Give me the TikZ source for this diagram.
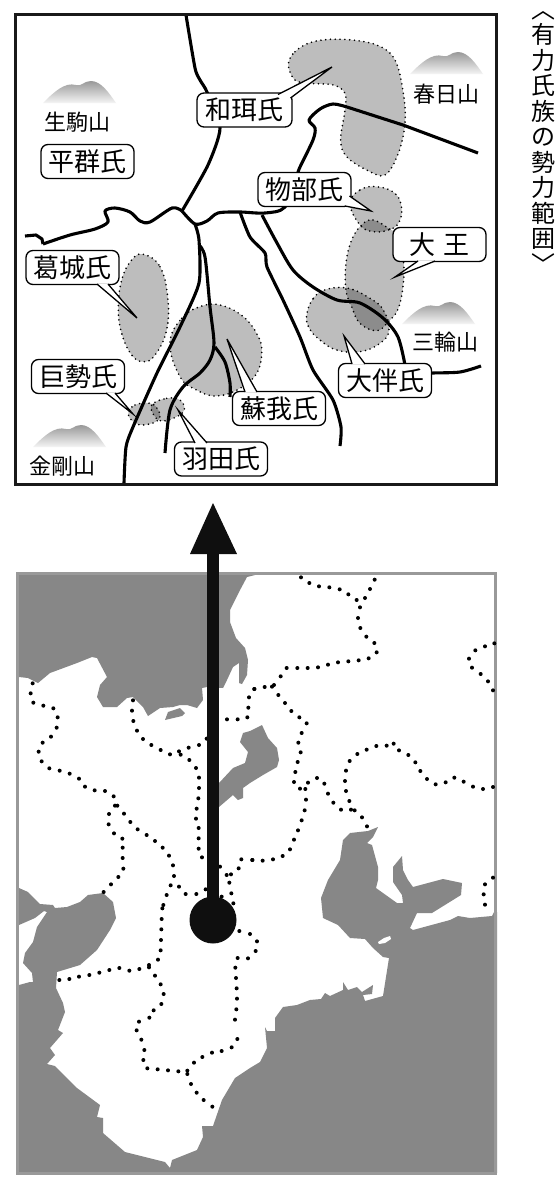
\documentclass[tikz,border=0pt]{standalone}
\usepackage{fontspec}
\setmainfont{Noto Sans CJK JP}
\tikzset{
  za/.style={xshift=0pt,yshift=0pt,x=0.33333pt,y=-0.33333pt},
  zb/.style={xshift=270pt,yshift=0pt,x=0.33333pt,y=-0.33333pt},
  zc/.style={xshift=0pt,yshift=-240pt,x=0.33333pt,y=-0.33333pt},
  zd/.style={xshift=270pt,yshift=-240pt,x=0.33333pt,y=-0.33333pt},
  ze/.style={xshift=0pt,yshift=-560pt,x=0.33333pt,y=-0.33333pt},
  zf/.style={xshift=250pt,yshift=-560pt,x=0.33333pt,y=-0.33333pt},
  zg/.style={xshift=0pt,yshift=-870pt,x=0.33333pt,y=-0.33333pt},
  zh/.style={xshift=250pt,yshift=-870pt,x=0.33333pt,y=-0.33333pt},
  blob/.style={fill=black,fill opacity=.26,draw=black,draw opacity=1,line width=1.8pt,line cap=round,dash pattern=on 0pt off 4.8pt},
  river/.style={draw=black,line width=3.1pt,line join=round},
  label/.style={draw=black,fill=white,line width=1.3pt,rounded corners=7pt,minimum width=93pt,minimum height=34pt,inner sep=0pt,font=\fontsize{26}{26}\selectfont,text height=22pt,text depth=3pt},
  peak/.style={font=\fontsize{22}{22}\selectfont,inner sep=0pt},
  tail/.style={draw=black,fill=white,line width=1.3pt,line join=miter},
  sea/.style={fill=seagray},
}
\definecolor{seagray}{gray}{0.53}
\definecolor{arrowblack}{gray}{0.06}
\newcommand{\mtn}[2]{\shade[top color=black!40,bottom color=black!4,shift={(#1pt,-#2pt)}] (0,0) .. controls (12,-12) and (22,-21) .. (33,-18) .. controls (38,-16) and (41,-22) .. (48,-22) .. controls (58,-22) and (66,-10) .. (73,0) -- cycle;}
\begin{document}
\begin{tikzpicture}[x=1pt,y=-1pt]
\useasboundingbox[fill=white] (0,0) rectangle (559,1186);
% ---------- lower map ----------
\fill[white] (16,572) rectangle (497,1173);
\fill[sea] (16,572) -- (255,572) -- (255,575) -- (247,577) -- (239,592) -- (230,610) -- (230,622) -- (236,638) -- (245,648) -- (248,660) -- (247,675) -- (242,684) -- (239,683) -- (239,663) -- (233,667) -- (227,680) -- (223,688) -- (207,687) -- (202,688) -- (203,700) -- (197,708) -- (187,705) -- (180,705) -- (173,707) -- (160,708) -- (148,716) -- (143,707) -- (133,697) -- (127,698) -- (117,707) -- (103,707) -- (97,697) -- (100,685) -- (107,677) -- (97,658) -- (92,657) -- (77,663) -- (50,673) -- (38,683) -- (28,678) -- (19,677) -- (16,677) -- cycle;
\fill[sea] (165,720) -- (168,712) -- (180,708) -- (185,713) -- (182,716) -- cycle;
\fill[sea] (213,790) -- (219,783) -- (233,768) -- (245,763) -- (248,752) -- (240,742) -- (243,733) -- (250,731) -- (262,725) -- (268,738) -- (277,748) -- (279,760) -- (277,767) -- (263,775) -- (250,783) -- (243,788) -- (243,798) -- (238,800) -- (233,795) -- (219,807) -- (213,815) -- cycle;
\fill[sea] (16,1173) -- (16,987) -- (19,985) -- (30,982) -- (33,982) -- (32,973) -- (23,963) -- (25,953) -- (33,942) -- (37,927) -- (47,912) -- (44,911) -- (35,918) -- (19,925) -- (16,925) -- (16,888) -- (19,888) -- (28,892) -- (40,904) -- (53,905) -- (55,908) -- (67,907) -- (80,902) -- (88,895) -- (103,893) -- (113,902) -- (116,918) -- (110,930) -- (97,950) -- (80,965) -- (57,972) -- (56,988) -- (63,1003) -- (65,1012) -- (58,1030) -- (63,1033) -- (50,1048) -- (55,1055) -- (47,1064) -- (55,1066) -- (77,1088) -- (100,1105) -- (97,1117) -- (103,1118) -- (103,1133) -- (125,1152) -- (165,1162) -- (170,1168) -- (172,1160) -- (197,1150) -- (203,1137) -- (202,1126) -- (213,1126) -- (222,1100) -- (235,1078) -- (250,1068) -- (260,1062) -- (267,1048) -- (265,1027) -- (267,1031) -- (275,1031) -- (275,1018) -- (283,1007) -- (297,1005) -- (310,1000) -- (321,999) -- (325,993) -- (330,996) -- (343,990) -- (343,982) -- (348,990) -- (357,987) -- (362,992) -- (373,985) -- (372,994) -- (363,995) -- (365,1001) -- (383,996) -- (389,958) -- (383,957) -- (373,948) -- (365,939) -- (350,938) -- (338,925) -- (323,918) -- (321,898) -- (328,880) -- (340,860) -- (343,840) -- (350,833) -- (368,831) -- (378,827) -- (373,837) -- (367,843) -- (372,845) -- (378,867) -- (378,880) -- (376,888) -- (397,903) -- (403,903) -- (402,895) -- (393,882) -- (393,867) -- (402,856) -- (403,870) -- (408,880) -- (413,887) -- (443,879) -- (462,883) -- (461,895) -- (432,913) -- (417,913) -- (410,928) -- (413,930) -- (450,920) -- (458,916) -- (470,918) -- (492,916) -- (494,912) -- (497,912) -- (497,1173) -- cycle;
\fill[white] (378,942) -- (384,938) -- (390,936) -- (391,939) -- (385,943) -- (379,944) -- cycle;
\draw[seagray!85!white,line width=3pt] (17.5,573.5) rectangle (495.5,1173);
% boundary dots
\begin{scope}[ze]
\foreach \p in {(98,370),(92,400),(100,428),(130,437),(160,445),(173,472),(170,503),(153,530),(128,548),(116,575),(125,604),(148,625),(179,632),(209,641),(237,656),(255,680),(284,691),(315,693),(341,709),(345,737),(352,737),(372,761),(391,786),(413,808),(440,825),(465,843),(488,863),(507,887),(519,916),(522,948),(327,762),(326,793),(342,820),(367,836),(368,863),(368,894),(370,926),(355,951),(399,421),(396,452),(400,483),(411,512),(429,537),(454,555),(482,570),(510,583),(537,574),(542,584),(566,563),(597,555),(620,536),(568,600),(588,624),(597,653),(597,684),(595,715),(590,746),(588,776),(596,804),(596,835),(596,866),(606,892),(660,920),(680,945),(693,943),(716,925),(724,898),(757,900),(681,478),(713,478),(742,472),(745,443),(747,412),(763,387)}
  \fill[black] \p circle (2pt);
\end{scope}
\begin{scope}[zf]
\foreach \p in {(153,52),(178,69),(207,79),(238,82),(269,88),(295,103),(320,120),(345,114),(360,87),(374,59),(330,142),(324,174),(331,204),(349,230),(373,249),(380,277),(356,295),(326,301),(295,304),(264,307),(234,314),(204,322),(173,324),(142,324),(110,324),(92,349),(72,375),(66,380),(44,381),(13,387),(85,405),(105,429),(124,453),(148,472),(170,490),(155,519),(145,548),(152,577),(143,606),(136,636),(132,666),(150,686),(166,687),(174,668),(201,654),(223,671),(234,701),(250,728),(273,749),(303,749),(314,751),(298,723),(288,693),(285,663),(288,632),(299,603),(322,582),(350,569),(379,558),(410,557),(431,551),(447,571),(475,585),(496,607),(511,633),(531,657),(557,673),(587,667),(613,653),(641,665),(669,680),(699,687),(729,681),(168,719),(164,751),(155,781),(144,811),(132,839),(120,868),(98,888),(69,898),(38,902),(7,900),(657,296),(676,271),(705,259),(733,250),(666,323),(692,342),(714,364),(729,391),(336,772),(351,799),(729,953)}
  \fill[black] \p circle (2pt);
\end{scope}
\begin{scope}[zg]
\foreach \p in {(333,43),(311,66),(512,46),(500,75),(490,105),(487,115),(485,147),(484,178),(483,210),(482,241),(474,269),(447,285),(447,292),(418,297),(388,302),(358,294),(328,300),(298,308),(268,315),(237,320),(208,327),(178,330),(537,50),(557,72),(589,72),(617,58),(665,80),(688,38),(694,70),(700,100),(718,183),(750,192),(771,214),(767,243),(744,265),(713,264),(706,293),(708,324),(710,355),(711,386),(709,418),(705,449),(712,507),(695,532),(665,543),(636,548),(607,561),(582,578),(562,602),(535,604),(504,601),(473,598),(442,595),(430,570),(433,540),(424,509),(410,481),(417,455),(448,443),(461,421),(484,402),(491,372),(482,343),(465,317),(562,612),(573,642),(590,668),(611,690),(637,710)}
  \fill[black] \p circle (2pt);
\end{scope}
\begin{scope}[zh]
\foreach \p in {(705,43),(701,73),(705,104)}
  \fill[black] \p circle (2pt);
\end{scope}
% arrow
\coordinate (arrowbase) at (213,920);
\coordinate (arrowtip) at (213,503);
\fill[arrowblack] (arrowbase) circle (23.5pt);
\fill[arrowblack] (207,920) -- (207,550) -- (219.3,550) -- (219.3,920) -- cycle;
\fill[arrowblack] (arrowtip) -- (237,554) -- (190,554) -- cycle;
% ---------- upper map ----------
\begin{scope}[zb]
\path[blob] plot[smooth cycle,tension=.6] coordinates {(55,195)(75,155)(130,125)(220,118)(320,135)(375,180)(400,280)(405,370)(385,460)(345,525)(290,510)(230,470)(212,420)(225,330)(225,280)(190,255)(120,250)(75,240)};
\path[blob] plot[smooth cycle,tension=.7] coordinates {(240,610)(270,570)(320,560)(375,580)(395,625)(385,670)(355,690)(310,695)(270,675)};
\end{scope}
\begin{scope}[zd]
\path[blob] plot[smooth cycle,tension=.7] coordinates {(275,-45)(309,-60)(355,-35)(385,-10)(400,60)(400,130)(385,205)(355,245)(320,272)(270,250)(245,200)(228,150)(228,70)(245,0)};
\path[blob] plot[smooth cycle,tension=.7] coordinates {(110,225)(130,175)(170,148)(235,145)(300,175)(340,210)(357,270)(330,310)(270,335)(200,330)(150,300)(118,265)};
\end{scope}
\begin{scope}[zc]
\path[blob] plot[smooth cycle,tension=.7] coordinates {(430,43)(480,80)(503,170)(500,270)(465,345)(430,365)(395,345)(365,280)(355,205)(365,120)(395,60)};
\path[blob] plot[smooth cycle,tension=.7] coordinates {(510,310)(545,235)(600,200)(660,195)(730,230)(775,290)(785,340)(770,400)(720,445)(650,468)(590,450)(540,410)};
\path[blob] plot[smooth cycle,tension=.7] coordinates {(385,520)(405,495)(450,490)(475,510)(475,540)(430,555)(400,545)};
\path[blob] plot[smooth cycle,tension=.7] coordinates {(455,495)(500,475)(540,480)(553,510)(530,530)(490,543)(465,530)};
\end{scope}
% rivers
\draw[river] plot[smooth,tension=.4] coordinates {(186,15)(195,68)(200,80)(207,92)(220,128)(208,165)(182,211)};
\draw[river] plot[smooth,tension=.5] coordinates {(182,211)(172,208)(150,222)(140,221)(130,212)(115,208)(105,211)(108,222)(95,229)(70,235)(43,244)};
\draw[river] (43,244) -- (42,239) -- (36,235) -- (25,236);
\draw[river] plot[smooth,tension=.5] coordinates {(182,211)(195,224)(207,221)(218,213)(240,212)(265,213)(285,207)(297,175)(300,167)(313,140)(315,128)(309,120)(320,109)(333,104)(347,107)};
\draw[river] (347,107) -- (403,125) -- (478,153);
\draw[river] plot[smooth,tension=.4] coordinates {(195,224)(199,240)(199,283)(180,327)(157,373)(133,427)(126,447)(124,483)};
\draw[river] plot[smooth,tension=.5] coordinates {(199,245)(205,257)(210,307)(214,343)(210,360)(200,373)(183,387)(170,410)(165,453)};
\draw[river] plot[smooth,tension=.5] coordinates {(215,347)(225,362)(230,383)(230,397)};
\draw[river] plot[smooth,tension=.4] coordinates {(240,212)(250,237)(265,253)(267,267)(283,300)(300,337)(313,370)(333,400)(341,427)(340,446)};
\draw[river] plot[smooth,tension=.5] coordinates {(262,215)(277,243)(293,270)(313,287)(337,300)(360,303)(383,318)(398,337)(405,365)};
\draw[river] plot[smooth,tension=.5] coordinates {(425,374)(433,373)(460,372)(481,366)};
% mountains
\mtn{43}{103}
\mtn{410}{74}
\mtn{402}{324}
\mtn{33}{447}
\node[peak] (ikoma) at (77,122) {生駒山};
\node[peak] (kasuga) at (446,94) {春日山};
\node[peak] (miwa) at (445,342) {三輪山};
\node[peak] (kongo) at (62,466) {金剛山};
% clan labels
\node[label,minimum width=95pt] (wani) at (244.5,110) {和珥氏};
\node[label] (heguri) at (87.5,161.5) {平群氏};
\node[label] (mono) at (304.5,189.5) {物部氏};
\node[label] (okimi) at (439.5,244.5) {大\,\,王};
\node[label] (katsu) at (72.5,267.5) {葛城氏};
\node[label] (kose) at (78,376.5) {巨勢氏};
\node[label] (hata) at (221,459) {羽田氏};
\node[label] (soga) at (279,408.5) {蘇我氏};
\node[label] (otomo) at (385,380.5) {大伴氏};
% callout tails
\coordinate (twani) at (332,67);
\coordinate (tmono) at (371,211);
\coordinate (tokimi) at (395,277);
\coordinate (tkatsu) at (137,318);
\coordinate (tkose) at (133,414);
\coordinate (thata) at (178,410);
\coordinate (tsoga) at (227,339);
\coordinate (totomo) at (344,336);
\draw[tail] (278,94.5) -- (twani) -- (290.5,98);
\draw[tail] (349.5,196) -- (tmono) -- (345,206);
\draw[tail] (418,261) -- (tokimi) -- (435,261);
\draw[tail] (97,284) -- (tkatsu) -- (108,284);
\draw[tail] (106,393) -- (tkose) -- (115,393);
\draw[tail] (195,443) -- (thata) -- (207,443);
\draw[tail] (245,392) -- (tsoga) -- (257,392);
\draw[tail] (352,364) -- (totomo) -- (365,364);
% frame and title
\draw[black!90,line width=3pt] (15,14) rectangle (496,484);
\node[inner sep=0pt,align=center,font=\fontsize{24}{25.5}\selectfont] (title) at (543,142) {︿\\有\\力\\氏\\族\\の\\勢\\力\\範\\囲\\﹀};
\end{tikzpicture}
\end{document}
